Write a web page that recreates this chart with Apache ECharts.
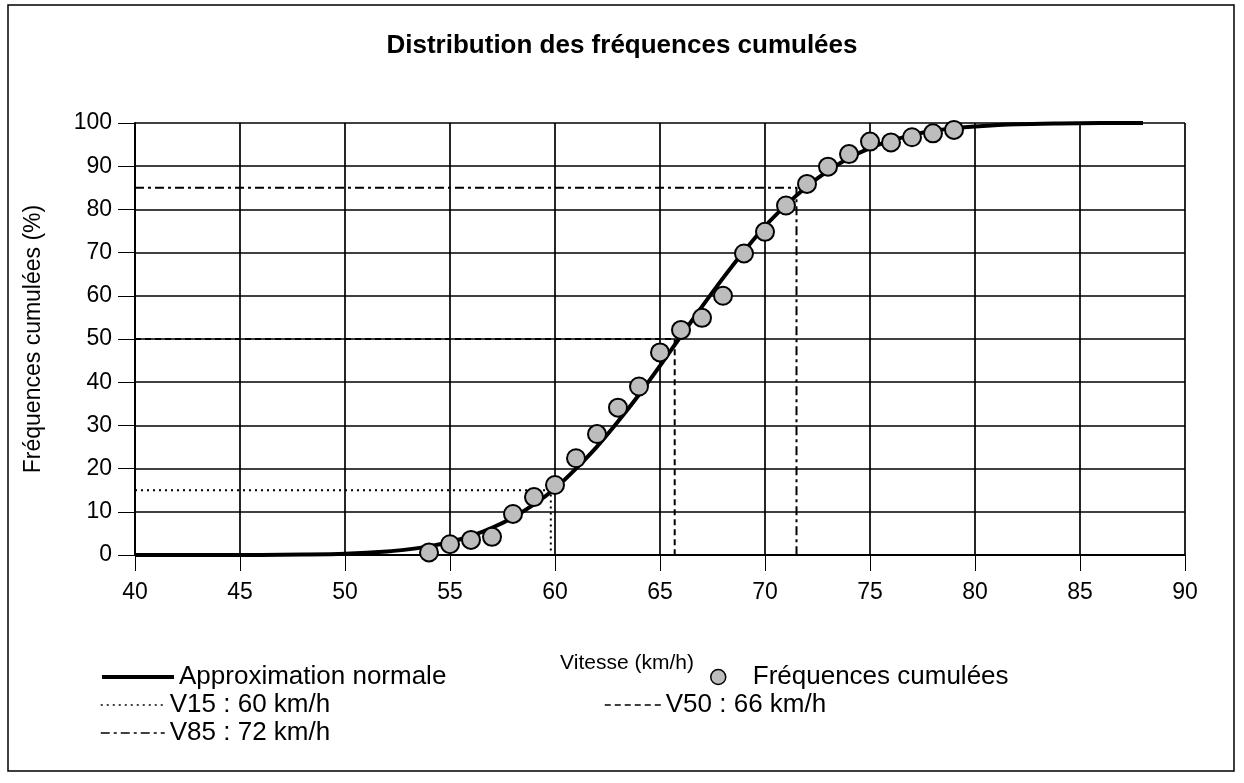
<!DOCTYPE html>
<html>
<head>
<meta charset="utf-8">
<script src="https://cdn.jsdelivr.net/npm/echarts@6/dist/echarts.min.js"></script>
<style>
  html, body { margin: 0; padding: 0; background: #fff; }
  #chart { width: 1244px; height: 783px; }
</style>
</head>
<body>
<div id="chart"></div>
<script>
  // vitesse (km/h) -> frequence cumulee (%)
  var vitesses = [54, 55, 56, 57, 58, 59, 60, 61, 62, 63, 64, 65, 66, 67, 68, 69, 70, 71, 72, 73, 74, 75, 76, 77, 78, 79]
  var frequences = [0.6, 2.5, 3.5, 4.2, 9.5, 13.4, 16.2, 22.4, 28, 34.1, 39, 46.9, 52.1, 54.9, 60, 69.8, 74.8, 80.9, 85.9, 89.9, 92.8, 95.7, 95.5, 96.7, 97.6, 98.4]

  // courbe
  var courbeX = [40, 44, 46, 48, 50, 52, 53, 54, 55, 56, 57, 58, 59, 60, 61, 62, 63, 64, 65, 66, 67, 68, 69, 70, 71, 72, 73, 74, 75, 76, 77, 78, 79, 80, 82, 84, 86, 88]
  var courbeY = [0, 0, 0, 0.1, 0.3, 0.8, 1.3, 2, 3, 4.4, 6.3, 8.7, 11.7, 15.4, 20, 25.1, 30.9, 37.1, 43.8, 50.7, 57.5, 64.1, 70.3, 76.1, 81, 85.3, 88.9, 91.9, 94.2, 95.9, 97.2, 98.2, 98.8, 99.2, 99.7, 99.9, 100, 100]

  var v15 = [[40, 15], [59.8, 15], [59.8, 0]]
  var v50 = [[40, 50], [65.7, 50], [65.7, 0]]
  var v85 = [[40, 85], [71.5, 85], [71.5, 0]]

  var xTicks = [40, 90, 5]
  var yTicks = [0, 100, 10]

  function paires(xs, ys) {
    var arr = []
    for (var i = 0; i < xs.length; i++) {
      arr.push([xs[i], ys[i]])
    }
    return arr
  }

  var font = 'Liberation Sans'
  var legendText = { color: '#000', fontSize: 26, fontFamily: font }
  // pas de point au milieu des traits de la legende
  var noDot = { opacity: 0 }

  var option = {
    animation: false,
    backgroundColor: '#fff',
    textStyle: { fontFamily: font, color: '#000' },
    title: {
      text: 'Distribution des fréquences cumulées',
      left: 'center',
      top: 28,
      textStyle: { color: '#000', fontSize: 26, fontWeight: 'bold', fontFamily: font }
    },
    graphic: [
      {
        type: 'rect',
        shape: { x: 8, y: 5, width: 1226, height: 766 },
        style: { fill: 'none', stroke: '#000', lineWidth: 1.5 },
        silent: true
      }
    ],
    grid: { left: 135, right: 59, top: 123, bottom: 228 },
    legend: [
      { left: 100, top: 664, padding: 0, itemWidth: 72, itemStyle: noDot, lineStyle: { width: 4 },
        data: ['Approximation normale'], textStyle: legendText },
      { left: 100, top: 692, padding: 0, itemWidth: 64, itemStyle: noDot, lineStyle: { width: 1.5 },
        data: ['V15 : 60 km/h'], textStyle: legendText },
      { left: 100, top: 720, padding: 0, itemWidth: 64, itemStyle: noDot, lineStyle: { width: 1.5 },
        data: ['V85 : 72 km/h'], textStyle: legendText },
      { left: 710, top: 664, padding: 0, itemWidth: 15, itemHeight: 15, data: ['Fréquences cumulées'],
        itemStyle: { borderWidth: 1.5 },
        textStyle: Object.assign({ padding: [0, 0, 0, 22] }, legendText) },
      { left: 604, top: 692, padding: 0, itemWidth: 56, itemStyle: noDot, lineStyle: { width: 1.5 },
        data: ['V50 : 66 km/h'], textStyle: legendText }
    ],
    xAxis: {
      type: 'value',
      min: xTicks[0],
      max: xTicks[1],
      interval: xTicks[2],
      name: 'Vitesse (km/h)',
      nameLocation: 'middle',
      nameGap: 98,
      nameTextStyle: { color: '#000', fontSize: 21, fontFamily: font, padding: [0, 66, 0, 0] },
      axisLine: { lineStyle: { color: '#000', width: 2 } },
      axisTick: { show: true, length: 16, lineStyle: { color: '#000', width: 1 } },
      axisLabel: { color: '#000', fontSize: 23, margin: 26, fontFamily: font },
      splitLine: { show: true, lineStyle: { color: '#000', width: 1.7 } }
    },
    yAxis: {
      type: 'value',
      min: yTicks[0],
      max: yTicks[1],
      interval: yTicks[2],
      name: 'Fréquences cumulées (%)',
      nameLocation: 'middle',
      nameRotate: 90,
      nameGap: 90,
      nameTextStyle: { color: '#000', fontSize: 23, fontFamily: font },
      axisLine: { show: true, lineStyle: { color: '#000', width: 2 } },
      axisTick: { show: true, length: 17, lineStyle: { color: '#000', width: 1 } },
      axisLabel: { color: '#000', fontSize: 23, margin: 23, fontFamily: font },
      splitLine: { show: true, lineStyle: { color: '#000', width: 1.7 } }
    },
    series: [
      {
        name: 'Approximation normale',
        type: 'line',
        data: paires(courbeX, courbeY),
        smooth: 0.3,
        symbol: 'none',
        z: 5,
        lineStyle: { color: '#000', width: 4 },
        itemStyle: { color: '#000' }
      },
      {
        name: 'V15 : 60 km/h',
        type: 'line',
        data: v15,
        symbol: 'none',
        z: 3,
        lineStyle: { color: '#000', width: 2, type: [2, 4] },
        itemStyle: { color: '#000' }
      },
      {
        name: 'V85 : 72 km/h',
        type: 'line',
        data: v85,
        symbol: 'none',
        z: 3,
        lineStyle: { color: '#000', width: 2, type: [9, 4, 3, 4] },
        itemStyle: { color: '#000' }
      },
      {
        name: 'V50 : 66 km/h',
        type: 'line',
        data: v50,
        symbol: 'none',
        z: 3,
        lineStyle: { color: '#000', width: 2, type: [6, 4] },
        itemStyle: { color: '#000' }
      },
      {
        name: 'Fréquences cumulées',
        type: 'scatter',
        data: paires(vitesses, frequences),
        symbol: 'circle',
        symbolSize: 18,
        z: 6,
        itemStyle: { color: '#bdbdbd', borderColor: '#000', borderWidth: 2, opacity: 1 }
      }
    ]
  }

  var chart = echarts.init(document.getElementById('chart'))
  chart.setOption(option)
</script>
</body>
</html>
